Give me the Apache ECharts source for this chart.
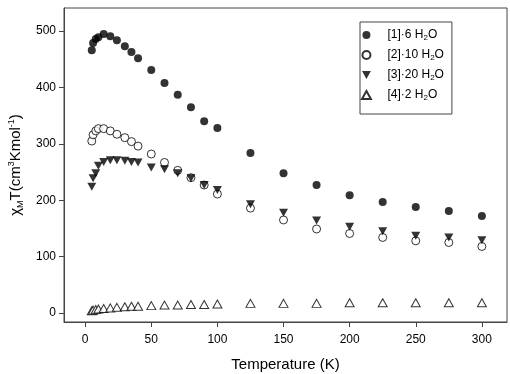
<!DOCTYPE html>
<html>
<head>
<meta charset="UTF-8">
<script src="https://cdn.jsdelivr.net/npm/echarts@6/dist/echarts.min.js"></script>
<style>
  body { margin: 0; background: #fff; }
  #root { width: 510px; height: 374px; }
</style>
</head>
<body>
<div id="root"></div>
<script>
var temps = [5, 6, 8, 10, 14, 19, 24, 30, 35, 40, 50, 60, 70, 80, 90, 100, 125, 150, 175, 200, 225, 250, 275, 300];
var s1 = [466, 479, 486, 489, 495, 491, 484, 473, 463, 452, 431, 408, 387, 365, 340, 328, 284, 248, 227, 209, 197, 188, 181, 172];
var s2 = [305, 316, 323, 327, 327, 323, 317, 311, 304, 296, 282, 267, 253, 240, 227, 211, 186, 165, 149, 141, 134, 128, 125, 118];
var s3 = [224, 239, 248, 261, 268, 271, 271, 270, 268, 267, 258, 255, 248, 239, 227, 218, 193, 178, 164, 153, 145, 137, 134, 129];
var s4 = [4, 5, 6, 7, 8, 9, 10, 11, 12, 12, 13, 14, 14, 15, 15, 16, 17, 17, 17, 18, 18, 18, 18, 18];
var names = ['[1]·6 H2O', '[2]·10 H2O', '[3]·20 H2O', '[4]·2 H2O'];
var xTicks = [0, 50, 100, 150, 200, 250, 300];
var yTicks = [0, 100, 200, 300, 400, 500];

function pairs(vals) {
  return temps.map(function (t, i) { return [t, vals[i]]; });
}

var downTri = 'path://M0,0 L10,0 L5,9 Z';
var upTri = 'path://M5,0 L10,9 L0,9 Z';
var font = 'Liberation Sans, Arial, sans-serif';

var chart = echarts.init(document.getElementById('root'));
chart.setOption({
  animation: false,
  grid: {
    left: 64, right: 3, top: 8, bottom: 52,
    outerBoundsMode: 'none', containLabel: false,
    show: true, borderColor: '#444', borderWidth: 1
  },
  legend: {
    orient: 'vertical',
    left: 360, top: 22,
    padding: [7, 8, 12, 1],
    itemWidth: 22, itemHeight: 8, itemGap: 7,
    borderColor: '#444', borderWidth: 1,
    data: names,
    formatter: function (n) {
      return '{t|' + n.replace(' H2O', ' H') + '}{s|2}{t|O}';
    },
    textStyle: {
      padding: [0, 0, 0, 5],
      rich: {
        t: { fontSize: 12, fontFamily: font, color: '#000', lineHeight: 14 },
        s: { fontSize: 8, fontFamily: font, color: '#000', verticalAlign: 'bottom', lineHeight: 14, padding: [5, 0, 0, 0] }
      }
    }
  },
  xAxis: {
    type: 'value', min: -16, max: 319,
    name: 'Temperature (K)', nameLocation: 'middle', nameGap: 35,
    nameTextStyle: { fontSize: 15, fontFamily: font, color: '#000' },
    splitLine: { show: false },
    axisLine: { onZero: false, lineStyle: { color: '#444' } },
    axisTick: { length: 5, customValues: xTicks, lineStyle: { color: '#444' } },
    axisLabel: { customValues: xTicks, fontSize: 12, fontFamily: font, color: '#000', margin: 12 }
  },
  yAxis: {
    type: 'value', min: -16, max: 541,
    name: '{t|χ}{s|M}{t|T(cm}{p|3}{t|Kmol}{p|-1}{t|)}',
    nameLocation: 'middle', nameGap: 35, nameRotate: 90,
    nameTextStyle: {
      rich: {
        t: { fontSize: 15, fontFamily: font, color: '#000', lineHeight: 18 },
        s: { fontSize: 9, fontFamily: font, color: '#000', verticalAlign: 'bottom', lineHeight: 18, padding: [6, 0, 0, 0] },
        p: { fontSize: 9, fontFamily: font, color: '#000', verticalAlign: 'top', lineHeight: 18, padding: [0, 0, 6, 0] }
      }
    },
    splitLine: { show: false },
    axisLine: { show: true, onZero: false, lineStyle: { color: '#444' } },
    axisTick: { show: true, length: 5, customValues: yTicks, lineStyle: { color: '#444' } },
    axisLabel: { customValues: yTicks, fontSize: 12, fontFamily: font, color: '#000', margin: 8 }
  },
  series: [
    {
      name: names[0], type: 'scatter', data: pairs(s1),
      symbol: 'circle', symbolSize: 8,
      itemStyle: { color: '#000' }
    },
    {
      name: names[1], type: 'scatter', data: pairs(s2),
      symbol: 'circle', symbolSize: 8,
      itemStyle: { color: '#fff', borderColor: '#000', borderWidth: 1 }
    },
    {
      name: names[2], type: 'scatter', data: pairs(s3),
      symbol: downTri, symbolSize: [9, 8],
      itemStyle: { color: '#000' }
    },
    {
      name: names[3], type: 'scatter', data: pairs(s4),
      symbol: upTri, symbolSize: [9, 8],
      itemStyle: { color: '#fff', borderColor: '#000', borderWidth: 1 }
    }
  ]
});
</script>
</body>
</html>
